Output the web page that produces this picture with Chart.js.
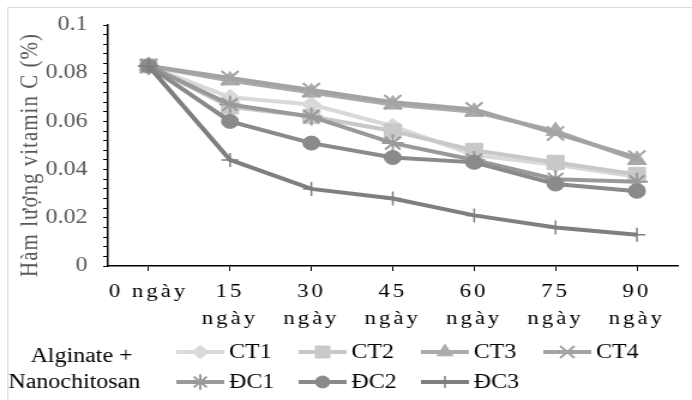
<!DOCTYPE html>
<html>
<head>
<meta charset="utf-8">
<script src="https://cdn.jsdelivr.net/npm/chart.js@4.4.0/dist/chart.umd.min.js"></script>
<style>
  html, body { margin: 0; padding: 0; background: #fff; }
  #chart { display: block; }
</style>
</head>
<body>
<!-- drawn at 577 wide and shown at 692, the same widened look as the printed figure -->
<canvas id="chart" width="577" height="400" style="width:692px;height:400px"></canvas>
<script>
// Thời gian bảo quản
const days = ['0 ngày', ['15', 'ngày'], ['30', 'ngày'], ['45', 'ngày'], ['60', 'ngày'], ['75', 'ngày'], ['90', 'ngày']];

// Hàm lượng vitamin C (%) theo từng công thức
const ct1 = [0.083, 0.070, 0.067, 0.058, 0.046, 0.042, 0.037];
const ct2 = [0.083, 0.066, 0.062, 0.056, 0.048, 0.043, 0.038];
const ct3 = [0.083, 0.077, 0.072, 0.067, 0.064, 0.056, 0.044];
const ct4 = [0.083, 0.078, 0.073, 0.068, 0.065, 0.055, 0.045];
const dc1 = [0.083, 0.067, 0.062, 0.051, 0.044, 0.036, 0.035];
const dc2 = [0.083, 0.060, 0.051, 0.045, 0.043, 0.034, 0.031];
const dc3 = [0.083, 0.044, 0.032, 0.028, 0.021, 0.016, 0.013];

const names = ['CT1', 'CT2', 'CT3', 'CT4', 'ĐC1', 'ĐC2', 'ĐC3'];
const series = [ct1, ct2, ct3, ct4, dc1, dc2, dc3];

const yMin = 0;
const yMax = 0.1;
const yMinorStep = 0.004;
const yLabelStep = 0.02;
const yTitle = 'Hàm lượng vitamin C (%)';

// kiểu đường / điểm cho từng dãy (thang xám)
const styles = [
  { color: '#d9d9d9', point: 'rectRot',  radius: 8,  border: 1 },
  { color: '#c8c8c8', point: 'rect',     radius: 10, border: 1 },
  { color: '#ababab', point: 'triangle', radius: 9,  border: 1 },
  { color: '#a3a3a3', point: 'crossRot', radius: 10, border: 2 },
  { color: '#999999', point: 'star',     radius: 9,  border: 2 },
  { color: '#8a8a8a', point: 'circle',   radius: 7,  border: 1 },
  { color: '#7f7f7f', point: 'cross',    radius: 7,  border: 1.5 }
];

const serif = '"Liberation Serif", "Times New Roman", serif';
Chart.defaults.font.family = serif;

const datasets = series.map((values, i) => ({
  label: names[i],
  data: values,
  borderColor: styles[i].color,
  backgroundColor: styles[i].color,
  borderWidth: 4,
  tension: 0,
  pointStyle: styles[i].point,
  pointRadius: styles[i].radius,
  pointHoverRadius: styles[i].radius,
  pointBackgroundColor: styles[i].color,
  pointBorderColor: styles[i].color,
  pointBorderWidth: styles[i].border,
  // series drawn later sit on top
  order: series.length - 1 - i
}));

// khung ngoài + tiêu đề trục tung
const frame = {
  id: 'frame',
  beforeDraw(chart) {
    const ctx = chart.ctx;
    ctx.save();
    ctx.fillStyle = '#fff';
    ctx.fillRect(0, 0, chart.width, chart.height);
    ctx.strokeStyle = '#d9d9d9';
    ctx.lineWidth = 1;
    ctx.strokeRect(6.5, 7.5, chart.width + 20, chart.height + 20);

    ctx.translate(31, 155);
    ctx.rotate(-Math.PI / 2);
    ctx.font = '21px ' + serif;
    ctx.letterSpacing = '1px';
    ctx.fillStyle = '#595959';
    ctx.textAlign = 'center';
    ctx.textBaseline = 'alphabetic';
    ctx.fillText(yTitle, 0, 0);
    ctx.restore();
  }
};

// nhãn trục hoành giãn chữ
const spacedTicks = {
  id: 'spacedTicks',
  beforeDraw(chart) {
    const sc = chart.scales.x;
    if (sc._spaced) return;
    const draw = sc.drawLabels;
    sc.drawLabels = function (area) {
      this.ctx.save();
      this.ctx.letterSpacing = '2.5px';
      draw.call(this, area);
      this.ctx.restore();
    };
    sc._spaced = true;
  }
};

// chú thích hai hàng, có tiêu đề bên trái
const legendBox = {
  id: 'legendBox',
  afterDraw(chart) {
    const ctx = chart.ctx;
    ctx.save();
    ctx.font = '20px ' + serif;
    ctx.fillStyle = '#000';
    ctx.textBaseline = 'middle';
    ctx.textAlign = 'center';
    ctx.fillText('Alginate +', 68, 357);
    ctx.fillText('Nanochitosan', 62, 383);

    chart.data.datasets.forEach((ds, i) => {
      const x = 147 + (i % 4) * 102;
      const y = 352 + Math.floor(i / 4) * 30;
      ctx.strokeStyle = ds.borderColor;
      ctx.lineWidth = 4;
      ctx.beginPath();
      ctx.moveTo(x, y);
      ctx.lineTo(x + 40, y);
      ctx.stroke();

      ctx.fillStyle = ds.pointBackgroundColor;
      ctx.strokeStyle = ds.pointBorderColor;
      ctx.lineWidth = ds.pointBorderWidth;
      Chart.helpers.drawPoint(ctx, {
        pointStyle: ds.pointStyle,
        radius: ds.pointRadius * 0.85,
        rotation: 0,
        borderWidth: ds.pointBorderWidth
      }, x + 20, y);

      ctx.fillStyle = '#000';
      ctx.textAlign = 'left';
      ctx.fillText(ds.label, x + 44, y + 1);
    });
    ctx.restore();
  }
};

new Chart(document.getElementById('chart'), {
  type: 'line',
  data: { labels: days, datasets: datasets },
  options: {
    responsive: false,
    animation: false,
    events: [],
    layout: { padding: { left: 0, right: 2, top: 22, bottom: 0 } },
    plugins: {
      legend: { display: false },
      tooltip: { enabled: false }
    },
    scales: {
      x: {
        offset: true,
        grid: {
          display: true,
          drawOnChartArea: false,
          drawTicks: true,
          tickLength: 5,
          color: '#000'
        },
        border: { display: true, color: '#000', width: 1.5 },
        ticks: {
          color: '#000',
          font: { size: 19, lineHeight: 1.4 },
          padding: 8,
          maxRotation: 0,
          autoSkip: false
        },
        afterFit(scale) { scale.height = 134; }
      },
      y: {
        min: yMin,
        max: yMax,
        grid: {
          display: true,
          drawOnChartArea: false,
          drawTicks: true,
          tickLength: 4,
          color: '#000'
        },
        border: { display: true, color: '#000', width: 1.5 },
        ticks: {
          stepSize: yMinorStep,
          maxTicksLimit: 40,
          autoSkip: false,
          color: '#595959',
          font: { size: 20 },
          padding: 13,
          callback(v) {
            const k = v / yLabelStep;
            return Math.abs(k - Math.round(k)) < 1e-6 ? String(+v.toFixed(2)) : '';
          }
        },
        afterFit(scale) { scale.width = 90; }
      }
    }
  },
  plugins: [frame, spacedTicks, legendBox]
});
</script>
</body>
</html>
